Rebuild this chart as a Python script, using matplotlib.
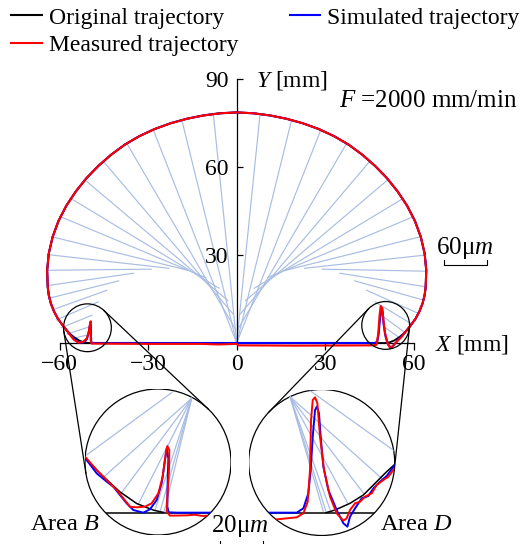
import numpy as np
import matplotlib
matplotlib.use("Agg")
import matplotlib.pyplot as plt
from matplotlib.lines import Line2D
from matplotlib.patches import Circle

plt.rcParams['font.family'] = ['Liberation Serif', 'DejaVu Serif']
plt.rcParams['mathtext.fontset'] = 'custom'
plt.rcParams['mathtext.rm'] = 'Liberation Serif'
plt.rcParams['mathtext.it'] = 'Liberation Serif:italic'

W, H = 526, 544
FS = 17
FAN = '#a9bde3'

# ---- main plot data [mm] ----
# original trajectory, upper arc (left corner -> top -> right corner)
arc_x = [-56.92, -58.79, -60.57, -61.94, -63.0, -63.69, -64.06, -64.26, -63.7, -62.4,
         -60.4, -57.76, -54.56, -50.94, -46.92, -42.59, -37.94, -32.98, -27.77, -22.38,
         -16.89, -11.31, -5.68, 0.0, 5.68, 11.31, 16.89, 22.38, 27.77, 32.98, 37.94,
         42.59, 46.92, 50.94, 54.56, 57.76, 60.4, 62.4, 63.7, 64.26, 64.06, 63.69,
         63.0, 61.94, 60.57, 58.79, 56.92]
arc_y = [3.46, 5.76, 8.2, 10.8, 13.5, 16.28, 19.1, 24.83, 30.57, 36.21,
         41.67, 46.85, 51.7, 56.25, 60.42, 64.25, 67.69, 70.61, 73.04, 75.0,
         76.53, 77.66, 78.4, 78.7, 78.4, 77.66, 76.53, 75.0, 73.04, 70.61, 67.69,
         64.25, 60.42, 56.25, 51.7, 46.85, 41.67, 36.21, 30.57, 24.83, 19.1, 16.28,
         13.5, 10.8, 8.2, 5.76, 3.46]

# lower part (right corner -> baseline -> left corner) of each trajectory
orig_low_x = [56.92, 55.0, 53.3, 51.7, 50.0, -50.0, -51.7, -53.3, -55.0, -56.92]
orig_low_y = [3.46, 1.9, 0.8, 0.2, 0.0, 0.0, 0.2, 0.8, 1.9, 3.46]

sim_low_x = [56.92, 55.5, 54.2, 53.0, 52.3, 51.3, 50.4, 49.8, 49.5, 49.2, 48.9, 48.5,
             48.1, 47.6, 46.5, -48.5, -49.3, -49.4, -49.4, -49.6, -49.8, -50.2,
             -50.8, -52.0, -53.5, -55.2, -56.92]
sim_low_y = [3.46, 2.0, 0.4, -1.0, -1.6, -0.5, 2.5, 6.5, 10.5, 11.5, 10.8, 7.5,
             3.0, 0.3, 0.0, 0.0, 0.2, 2.0, 5.5, 6.6, 5.8, 3.5,
             1.3, 0.2, 0.1, 1.5, 3.46]

meas_low_x = [56.92, 56.0, 54.2, 52.9, 52.0, 51.1, 50.3, 49.7, 49.4, 48.8, 48.4, 48.0,
              47.4, 46.3, 20.0, 0.5, 0.0, -6.0, -12.0, -30.0, -49.2, -49.5, -49.5,
              -49.5, -49.7, -50.1, -50.8, -52.0, -53.7, -55.3, -56.92]
meas_low_y = [3.46, 2.2, 0.4, -1.0, -1.8, 0.0, 3.3, 7.9, 11.8, 12.6, 9.0, 3.3,
              -0.6, -0.8, -0.9, -0.8, -0.3, -0.5, -0.3, -0.3, -0.2, 1.0, 5.5,
              7.4, 6.7, 3.9, 1.6, 0.4, 0.1, 1.2, 3.3]

# tool axis lines: tip on the trajectory -> point on the inner arch
tip_x = [-55.3, -57.5, -59.5, -61.1, -62.5, -63.5, -64.1, -64.4, -64.2, -62.4, -59.9,
         -56.5, -51.4, -45.2, -37.3, -28.3, -18.6, -7.9,
         7.9, 18.6, 28.5, 37.3, 45.0, 51.1, 56.5, 59.9, 62.4, 63.8, 64.3, 64.0,
         63.2, 61.6, 59.4, 57.0, 55.0]
tip_y = [1.6, 3.0, 5.2, 7.9, 11.3, 15.3, 19.6, 24.8, 30.2, 36.2, 43.2,
         49.5, 55.6, 62.0, 68.2, 72.8, 76.1, 78.0,
         78.0, 76.1, 72.7, 68.2, 61.9, 55.6, 49.4, 43.1, 36.3, 30.0, 24.5, 19.2,
         14.7, 10.1, 6.4, 3.6, 1.9]
piv_x = [-50.4, -50.0, -49.0, -47.0, -44.0, -40.0, -35.0, -29.0, -23.0, -16.5, -10.5,
         -6.0, -3.0, -1.3, -0.3, 0.0, 0.0, 0.0,
         0.0, 0.0, 0.0, 0.3, 1.3, 3.0, 6.0, 10.5, 16.5, 23.0, 29.0, 35.0,
         40.0, 44.0, 47.0, 49.0, 50.0]
piv_y = [2.8, 5.5, 9.5, 14.0, 18.0, 21.2, 23.8, 25.2, 25.5, 24.8, 22.3,
         18.7, 14.5, 10.0, 4.5, 0.0, 0.0, 0.0,
         0.0, 0.0, 0.0, 4.5, 10.0, 14.5, 18.7, 22.3, 24.8, 25.5, 25.2, 23.8,
         21.2, 18.0, 14.0, 9.5, 5.5]

# zoom circles in the main plot (centre [mm], radius [mm])
zoom_cx = [-50.6, 50.5]
zoom_cy = [5.2, 6.0]
zoom_r = 8.1

# ---- magnified areas, in units of the circle radius ----
ib_orig_x = [-1.1, -1.0, -0.75, -0.52, -0.29, -0.06, 0.07]
ib_orig_y = [0.13, 0.05, -0.20, -0.41, -0.57, -0.66, -0.69]
ib_base_x = [-1.0, 1.0]
ib_base_y = [-0.694, -0.694]
ib_sim_x = [-1.05, -0.977, -0.84, -0.703, -0.612, -0.521, -0.429, -0.338, -0.201, -0.11,
            -0.018, 0.05, 0.096, 0.119, 0.142, 0.132, 0.128, 0.146, 0.256, 1.0]
ib_sim_y = [0.08, 0.027, -0.155, -0.269, -0.338, -0.452, -0.566, -0.658, -0.694, -0.648,
            -0.521, -0.292, 0.027, 0.187, 0.05, -0.292, -0.612, -0.689, -0.694, -0.694]
ib_meas_x = [-1.05, -0.991, -0.84, -0.703, -0.566, -0.475, -0.384, -0.292, -0.178, -0.087,
             0.005, 0.064, 0.100, 0.128, 0.155, 0.151, 0.128, 0.119, 0.164, 0.393, 0.5,
             0.6, 1.0]
ib_meas_y = [0.10, 0.064, -0.110, -0.247, -0.384, -0.498, -0.612, -0.621, -0.612, -0.566,
             -0.429, -0.201, 0.073, 0.219, 0.164, -0.110, -0.475, -0.680, -0.735, -0.731, -0.722,
             -0.738, -0.733]
ib_fan_x0 = [0.187, 0.461, 0.461, 0.461, 0.461, 0.461, 0.461]
ib_fan_y0 = [0.950, 0.872, 0.872, 0.872, 0.872, 0.872, 0.872]
ib_fan_x1 = [-0.977, -0.749, -0.498, -0.269, -0.041, 0.027, 0.082]
ib_fan_y1 = [0.096, -0.210, -0.420, -0.575, -0.658, -0.685, -0.689]

id_orig_x = [0.06, 0.183, 0.388, 0.571, 0.753, 0.890, 0.991, 1.06]
id_orig_y = [-0.687, -0.651, -0.559, -0.445, -0.263, -0.126, -0.034, 0.03]
id_base_x = [-1.0, 1.0]
id_base_y = [-0.687, -0.687]
id_sim_x = [-1.0, -0.708, -0.342, -0.251, -0.183, -0.151, -0.123, -0.091, -0.068, -0.037,
            -0.014, 0.023, 0.091, 0.205, 0.297, 0.352, 0.388, 0.457, 0.548, 0.639, 0.708,
            0.799, 0.890, 0.991, 1.06]
id_sim_y = [-0.687, -0.687, -0.687, -0.628, -0.422, -0.103, 0.354, 0.719, 0.765, 0.674,
            0.354, -0.057, -0.377, -0.651, -0.833, -0.879, -0.742, -0.628, -0.491, -0.459, -0.354,
            -0.263, -0.185, -0.048, 0.02]
id_meas_x = [-0.70, -0.616, -0.342, -0.251, -0.192, -0.160, -0.146, -0.123, -0.091, -0.059,
             -0.023, 0.032, 0.114, 0.205, 0.297, 0.342, 0.388, 0.457, 0.525, 0.594, 0.685,
             0.753, 0.845, 0.913, 0.982, 1.05]
id_meas_y = [-0.78, -0.779, -0.751, -0.696, -0.537, -0.103, 0.582, 0.856, 0.893, 0.811,
             0.354, -0.103, -0.468, -0.696, -0.797, -0.765, -0.651, -0.559, -0.537, -0.468, -0.422,
             -0.308, -0.240, -0.194, -0.103, -0.04]
id_fan_x0 = [-0.160, -0.434, -0.434, -0.434, -0.434, -0.434, -0.434]
id_fan_y0 = [0.984, 0.902, 0.902, 0.902, 0.902, 0.902, 0.902]
id_fan_x1 = [0.991, 0.822, 0.580, 0.352, 0.114, 0.059, 0.023]
id_fan_y1 = [0.162, -0.217, -0.431, -0.550, -0.642, -0.674, -0.674]

# ---- figure ----
fig = plt.figure(figsize=(W / 100, H / 100), dpi=100)
sx, sy = 2.95, 2.93            # px per mm
x0px, y0px = 236.7, 343.0      # position of the origin (from top-left)
xl, yl = (-70, 70), (-8, 95)
ax = fig.add_axes([(x0px + xl[0] * sx) / W, (H - y0px + yl[0] * sy) / H,
                   (xl[1] - xl[0]) * sx / W, (yl[1] - yl[0]) * sy / H])
ax.set_xlim(*xl)
ax.set_ylim(*yl)
ax.patch.set_alpha(0)

for a, b, c, d in zip(tip_x, tip_y, piv_x, piv_y):
    ax.plot([a, c], [b, d], color=FAN, lw=0.85, zorder=1)

ax.plot(arc_x + orig_low_x, arc_y + orig_low_y, color='k', lw=1.3, zorder=3)
ax.plot(arc_x + sim_low_x, arc_y + sim_low_y, color='blue', lw=1.5, zorder=4)
ax.plot(arc_x + meas_low_x, arc_y + meas_low_y, color='red', lw=1.5, zorder=5)

for s in ('top', 'right'):
    ax.spines[s].set_visible(False)
ax.spines['left'].set_position(('data', 0))
ax.spines['bottom'].set_position(('data', 0))
ax.spines['left'].set_bounds(0, 90)
ax.spines['bottom'].set_bounds(-60, 60)
for s in ('left', 'bottom'):
    ax.spines[s].set_linewidth(0.9)
ax.set_xticks([-60, -30, 0, 30, 60])
ax.set_yticks([30, 60, 90])
ax.tick_params(axis='x', direction='out', length=5, width=0.9, pad=3, labelsize=FS)
ax.tick_params(axis='y', direction='in', length=4.5, width=0.9, pad=6, labelsize=FS)

# overlay in pixel coordinates
ov = fig.add_axes([0, 0, 1, 1])
ov.set_xlim(0, W)
ov.set_ylim(H, 0)
ov.axis('off')


def to_px(x, y):
    p = ax.transData.transform((x, y))
    return np.array([p[0], H - p[1]])


inset_c = [np.array([158.0, 462.0]), np.array([321.7, 462.5])]
inset_r = 73.0
r_small = zoom_r * sx

for cx, cy, c2 in zip(zoom_cx, zoom_cy, inset_c):
    c1 = to_px(cx, cy)
    ov.add_patch(Circle(c1, r_small, fill=False, ec='k', lw=0.9))
    d = c2 - c1
    L = np.hypot(*d)
    dh = d / L
    dp = np.array([-dh[1], dh[0]])
    ca = (inset_r - r_small) / L
    sa = np.sqrt(1 - ca ** 2)
    for sg in (1, -1):
        n = ca * dh + sg * sa * dp
        p1 = c1 - r_small * n
        p2 = c2 - inset_r * n
        ov.plot([p1[0], p2[0]], [p1[1], p2[1]], color='k', lw=0.9)


def inset(c, fan, orig, base, sim, meas):
    ia = fig.add_axes([(c[0] - inset_r) / W, (H - c[1] - inset_r) / H,
                       2 * inset_r / W, 2 * inset_r / H])
    ia.set_xlim(-1, 1)
    ia.set_ylim(-1, 1)
    ia.axis('off')
    circ = Circle((0, 0), 1, fill=False, ec='k', lw=0.9, transform=ia.transData)
    ia.add_patch(circ)
    lines = []
    for a, b, e, f in zip(*fan):
        lines += ia.plot([a, e], [b, f], color=FAN, lw=0.9)
    lines += ia.plot(*orig, color='k', lw=1.1)
    lines += ia.plot(*base, color='k', lw=1.1)
    lines += ia.plot(*sim, color='blue', lw=1.4)
    lines += ia.plot(*meas, color='red', lw=1.4)
    for ln in lines:
        ln.set_clip_path(circ)


inset(inset_c[0], (ib_fan_x0, ib_fan_y0, ib_fan_x1, ib_fan_y1), (ib_orig_x, ib_orig_y),
      (ib_base_x, ib_base_y), (ib_sim_x, ib_sim_y), (ib_meas_x, ib_meas_y))
inset(inset_c[1], (id_fan_x0, id_fan_y0, id_fan_x1, id_fan_y1), (id_orig_x, id_orig_y),
      (id_base_x, id_base_y), (id_sim_x, id_sim_y), (id_meas_x, id_meas_y))

# labels
ov.text(256, 80, r'$Y$ [mm]', ha='left', va='center', fontsize=FS)
ov.text(339, 101, r'$F$ =2000 mm/min', ha='left', va='center', fontsize=18)
ov.text(435, 345, r'$X$ [mm]', ha='left', va='center', fontsize=FS)
ov.text(465, 248, r'60μ$m$', ha='center', va='center', fontsize=18)
ov.plot([444, 444, 487, 487], [260, 265, 265, 260], color='k', lw=0.8)
ov.text(65, 524, r'Area $B$', ha='center', va='center', fontsize=17.5)
ov.text(416, 524, r'Area $D$', ha='center', va='center', fontsize=17.5)
ov.text(240, 526, r'20μ$m$', ha='center', va='center', fontsize=18)
ov.plot([220, 220], [541, 546], color='k', lw=0.8)
ov.plot([263, 263], [541, 546], color='k', lw=0.8)

handles = [Line2D([], [], color='k', lw=1.5), Line2D([], [], color='red', lw=1.5),
           Line2D([], [], color='blue', lw=1.5)]
labels = ['Original trajectory', 'Measured trajectory', 'Simulated trajectory']
fig.legend(handles, labels, loc='upper left', bbox_to_anchor=(11 / W, 1 - 7 / H), ncol=2,
           frameon=False, fontsize=17, handlelength=1.3, handletextpad=0.3,
           columnspacing=2.17, labelspacing=0.27, borderpad=0, borderaxespad=0)

fig.savefig('out.png', dpi=100)
